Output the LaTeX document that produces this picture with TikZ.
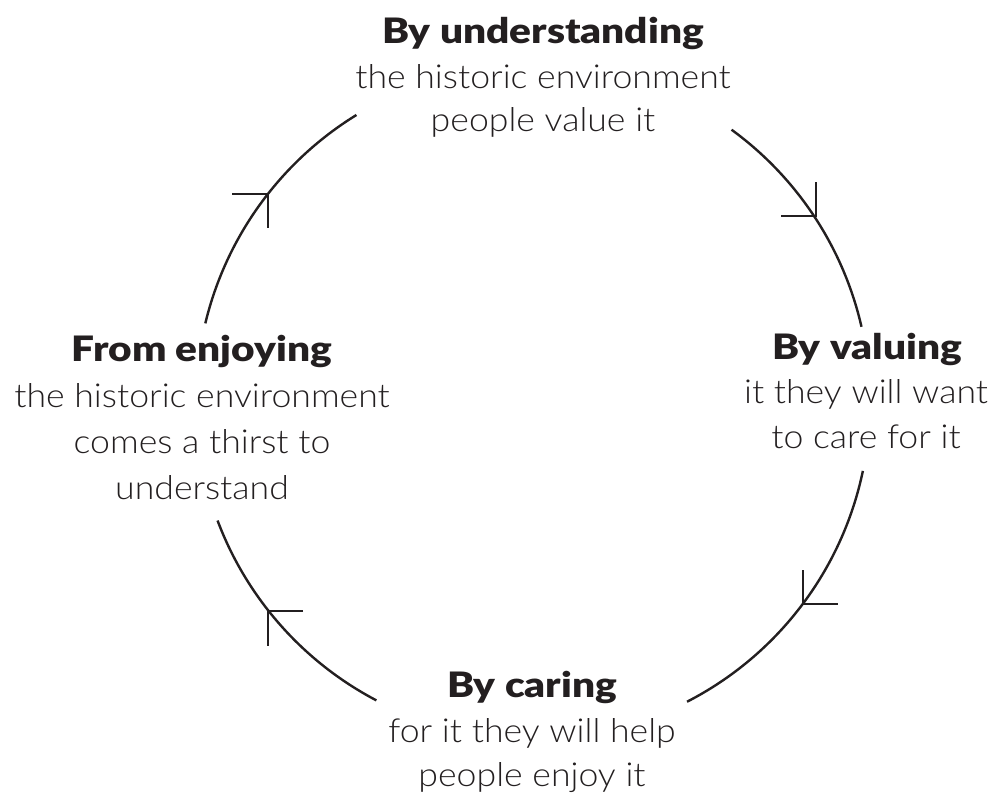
\documentclass[tikz,border=0pt]{standalone}
\usepackage{fontspec}
\IfFontExistsTF{Lato Light}{\newfontfamily\bodyfont{Lato Light}[FakeStretch=1.08]}{\newfontfamily\bodyfont{Lato}[FakeStretch=1.08]}
\IfFontExistsTF{Lato Black}{\newfontfamily\headfont{Lato Black}[FakeStretch=1.16]}{\newfontfamily\headfont{Lato}[FakeStretch=1.2,UprightFont=*-Bold]}
\definecolor{ink}{HTML}{231F20}
\begin{document}
\begin{tikzpicture}[x=1pt,y=-1pt,
  head/.style={anchor=base,inner sep=0pt,text=ink,font=\headfont\fontsize{35}{40}\selectfont},
  body/.style={anchor=base,inner sep=0pt,text=ink,font=\bodyfont\fontsize{33}{38}\selectfont},
  ring/.style={draw=ink,line width=2.4pt},
  barb/.style={draw=ink,line width=2.6pt}]
\useasboundingbox (0,0) rectangle (995,801);
\coordinate (c) at (533,402);
% labels
\node[head] (u1) at (543,43) {By understanding};
\node[body] (u2) at (543,88) {the historic environment};
\node[body] (u3) at (543,131) {people value it};
\node[head] (v1) at (867,359) {By valuing};
\node[body] (v2) at (866,403) {it they will want};
\node[body] (v3) at (866,448) {to care for it};
\node[head] (k1) at (532,697) {By caring};
\node[body] (k2) at (532,742) {for it they will help};
\node[body] (k3) at (532,786) {people enjoy it};
\node[head] (e1) at (202,361) {From enjoying};
\node[body] (e2) at (202,407) {the historic environment};
\node[body] (e3) at (202,453) {comes a thirst to};
\node[body] (e4) at (202,499) {understand};
% ring arcs
\draw[ring] (c) ++(193.5:337) arc[start angle=193.5,end angle=238.4,radius=337];
\draw[ring] (c) ++(306.1:337) arc[start angle=306.1,end angle=347.1,radius=337];
\draw[ring] (c) ++(11.8:337) arc[start angle=11.8,end angle=62.8,radius=337];
\draw[ring] (c) ++(117.7:337) arc[start angle=117.7,end angle=159.4,radius=337];
% arrow barbs
\coordinate (t1) at (268,194);
\coordinate (t2) at (816,216);
\coordinate (t3) at (803,604);
\coordinate (t4) at (268,611);
\draw[barb] (t1) ++(-36,0) -- (t1) -- ++(0,34);
\draw[barb] (t2) ++(-35,0) -- (t2) -- ++(0,-34);
\draw[barb] (t3) ++(0,-34) -- (t3) -- ++(35,0);
\draw[barb] (t4) ++(35,0) -- (t4) -- ++(0,35);
\end{tikzpicture}
\end{document}
